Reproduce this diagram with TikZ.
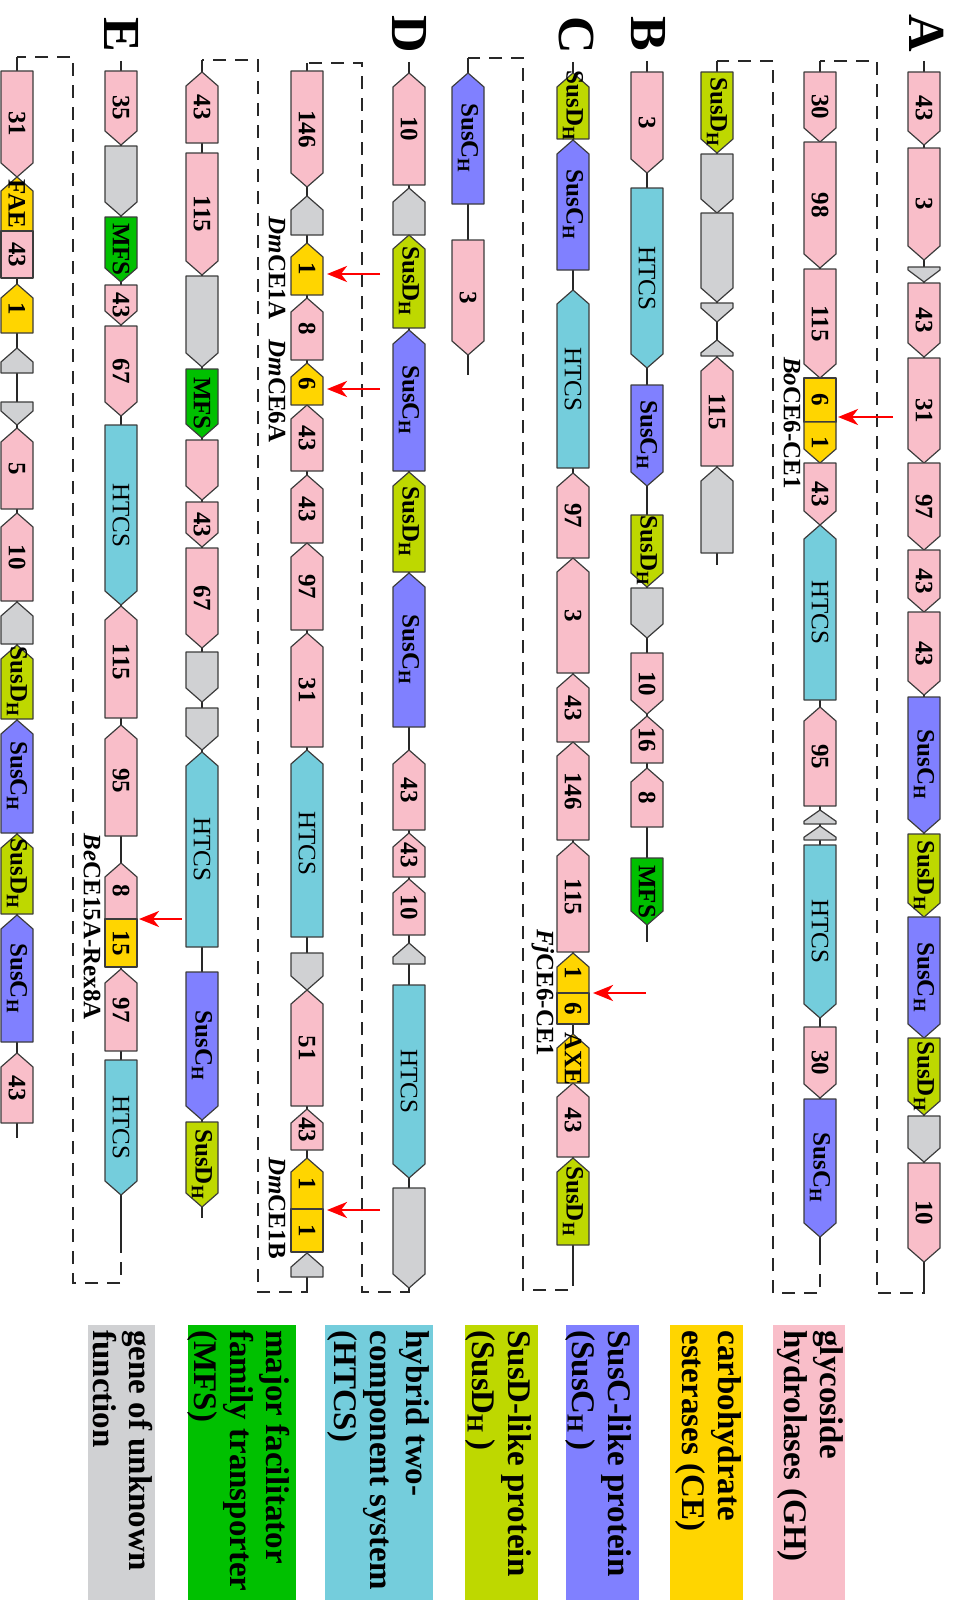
\documentclass[tikz,border=0pt]{standalone}
\usepackage{fontspec}
\setmainfont{Liberation Serif}
\usetikzlibrary{arrows.meta}
\definecolor{gh}{RGB}{249,190,201}
\definecolor{ce}{RGB}{255,213,0}
\definecolor{susc}{RGB}{128,128,255}
\definecolor{susd}{RGB}{190,216,0}
\definecolor{htcs}{RGB}{116,205,220}
\definecolor{mfs}{RGB}{0,192,0}
\definecolor{unk}{RGB}{208,209,211}
\definecolor{edge}{RGB}{60,60,60}
\definecolor{lineclr}{RGB}{40,40,40}
\newcounter{gn}
\newcommand\susC{SusC\textsubscript{H}}
\newcommand\susD{SusD\textsubscript{H}}
\newcommand\gene[6]{%
  \pgfmathsetmacro\gtip{min(14,0.8*(#3-#2))}%
  \if#4d\draw[genebox,fill=#5] (#1-16,#2) -- (#1+16,#2) -- (#1+16,#3-\gtip) -- (#1,#3) -- (#1-16,#3-\gtip) -- cycle;\fi
  \if#4u\draw[genebox,fill=#5] (#1,#2) -- (#1+16,#2+\gtip) -- (#1+16,#3) -- (#1-16,#3) -- (#1-16,#2+\gtip) -- cycle;\fi
  \if#4r\draw[genebox,fill=#5] (#1-16,#2) rectangle (#1+16,#3);\fi
  \stepcounter{gn}%
  \node[genelabel] (g\arabic{gn}) at (#1,{(#2+#3)/2}) {#6};%
}
\newcommand\row[4]{%
  \coordinate (#1s) at (#2,#3); \coordinate (#1e) at (#2,#4);
  \draw[backbone] (#1s) -- (#1e);}
\newcommand\redarrow[4]{%
  \coordinate (#1s) at (#2,#4); \coordinate (#1e) at (#3,#4);
  \draw[redarr] (#1s) -- (#1e);}
\tikzset{
  genebox/.style={draw=edge, line width=0.6pt, line join=round},
  genelabel/.style={rotate=-90, inner sep=0pt, font=\fontsize{12.5}{13}\selectfont\bfseries},
  backbone/.style={draw=lineclr, line width=1.1pt},
  dashbox/.style={draw=lineclr, line width=1.3pt, dash pattern=on 6.5pt off 4.5pt},
  redarr/.style={draw=red, line width=1.4pt, -{Stealth[length=10pt,width=8pt,inset=3pt]}},
  ann/.style={rotate=-90, inner sep=0pt, font=\fontsize{12.5}{13}\selectfont\bfseries},
  rowlab/.style={rotate=-90, inner sep=0pt, font=\fontsize{26}{27}\selectfont\bfseries},
  legtext/.style={rotate=-90, anchor=north west, align=left, inner sep=0pt, font=\fontsize{16.5}{18}\selectfont\bfseries},
}
\begin{document}
\begin{tikzpicture}[x=0.5pt, y=-0.5pt]
\useasboundingbox (0,0) rectangle (956,1600);
% backbones
\row{A}{924}{61}{1282}
\row{Ab}{820}{61}{1252}
\row{Ac}{717}{61}{565}
\row{B}{647}{61}{942}
\row{C}{573}{62}{1273}
\row{Cb}{468}{58}{375}
\row{D}{409}{62}{1288}
\row{Db}{307}{63}{1285}
\row{Dc}{202}{60}{1218}
\row{E}{121}{61}{1240}
\row{Eb}{17}{57}{1138}
% dashed continuation connectors
\draw[dashbox] (Ae) -- (924,1293) -- (877,1293) -- (877,61) -- (Abs);
\draw[dashbox] (Abe) -- (820,1293) -- (773,1293) -- (773,61) -- (Acs);
\draw[dashbox] (Ce) -- (573,1290) -- (523,1290) -- (523,58) -- (Cbs);
\draw[dashbox] (De) -- (409,1292) -- (362,1292) -- (362,63) -- (Dbs);
\draw[dashbox] (Dbe) -- (307,1292) -- (258,1292) -- (258,60) -- (Dcs);
\draw[dashbox] (Ee) -- (121,1283) -- (73,1283) -- (73,57) -- (Ebs);
% Row A
\gene{924}{72}{145}{d}{gh}{43}
\gene{924}{148}{260}{d}{gh}{3}
\gene{924}{267}{282}{d}{unk}{}
\gene{924}{283}{357}{d}{gh}{43}
\gene{924}{358}{463}{d}{gh}{31}
\gene{924}{463}{550}{d}{gh}{97}
\gene{924}{550}{612}{d}{gh}{43}
\gene{924}{612}{695}{d}{gh}{43}
\gene{924}{697}{833}{d}{susc}{\susC}
\gene{924}{834}{917}{d}{susd}{\susD}
\gene{924}{917}{1038}{d}{susc}{\susC}
\gene{924}{1038}{1115}{d}{susd}{\susD}
\gene{924}{1116}{1162}{d}{unk}{}
\gene{924}{1163}{1262}{d}{gh}{10}
% Row A2
\gene{820}{72}{142}{d}{gh}{30}
\gene{820}{142}{268}{d}{gh}{98}
\gene{820}{269}{378}{d}{gh}{115}
\gene{820}{378}{422}{r}{ce}{6}
\gene{820}{422}{463}{d}{ce}{1}
\gene{820}{463}{525}{d}{gh}{43}
\gene{820}{525}{700}{u}{htcs}{\mdseries HTCS}
\gene{820}{707}{806}{u}{gh}{95}
\gene{820}{810}{824}{u}{unk}{}
\gene{820}{826}{840}{u}{unk}{}
\gene{820}{845}{1018}{d}{htcs}{\mdseries HTCS}
\gene{820}{1027}{1098}{d}{gh}{30}
\gene{820}{1099}{1237}{d}{susc}{\susC}
% Row A3
\gene{717}{72}{153}{d}{susd}{\susD}
\gene{717}{154}{213}{d}{unk}{}
\gene{717}{213}{302}{d}{unk}{}
\gene{717}{303}{322}{d}{unk}{}
\gene{717}{340}{356}{u}{unk}{}
\gene{717}{357}{466}{u}{gh}{115}
\gene{717}{467}{553}{u}{unk}{}
% Row B
\gene{647}{72}{173}{d}{gh}{3}
\gene{647}{188}{368}{d}{htcs}{\mdseries HTCS}
\gene{647}{385}{486}{d}{susc}{\susC}
\gene{647}{515}{587}{d}{susd}{\susD}
\gene{647}{588}{638}{d}{unk}{}
\gene{647}{653}{714}{d}{gh}{10}
\gene{647}{716}{763}{u}{gh}{16}
\gene{647}{768}{827}{u}{gh}{8}
\gene{647}{858}{925}{d}{mfs}{MFS}
% Row C
\gene{573}{73}{139}{u}{susd}{\susD}
\gene{573}{140}{270}{u}{susc}{\susC}
\gene{573}{290}{468}{u}{htcs}{\mdseries HTCS}
\gene{573}{473}{558}{u}{gh}{97}
\gene{573}{558}{673}{u}{gh}{3}
\gene{573}{674}{742}{u}{gh}{43}
\gene{573}{742}{840}{u}{gh}{146}
\gene{573}{842}{952}{u}{gh}{115}
\gene{573}{953}{993}{u}{ce}{1}
\gene{573}{993}{1024}{r}{ce}{6}
\gene{573}{1034}{1083}{u}{ce}{AXE}
\gene{573}{1083}{1157}{u}{gh}{43}
\gene{573}{1158}{1245}{u}{susd}{\susD}
% Row C2
\gene{468}{73}{204}{u}{susc}{\susC}
\gene{468}{240}{355}{d}{gh}{3}
% Row D
\gene{409}{73}{185}{u}{gh}{10}
\gene{409}{188}{235}{u}{unk}{}
\gene{409}{235}{328}{u}{susd}{\susD}
\gene{409}{330}{471}{u}{susc}{\susC}
\gene{409}{472}{572}{u}{susd}{\susD}
\gene{409}{573}{727}{u}{susc}{\susC}
\gene{409}{750}{830}{u}{gh}{43}
\gene{409}{833}{877}{u}{gh}{43}
\gene{409}{879}{935}{u}{gh}{10}
\gene{409}{943}{964}{u}{unk}{}
\gene{409}{985}{1178}{d}{htcs}{\mdseries HTCS}
\gene{409}{1188}{1288}{d}{unk}{}
% Row D2
\gene{307}{71}{187}{d}{gh}{146}
\gene{307}{196}{235}{u}{unk}{}
\gene{307}{243}{295}{u}{ce}{1}
\gene{307}{298}{360}{u}{gh}{8}
\gene{307}{363}{405}{u}{ce}{6}
\gene{307}{405}{471}{u}{gh}{43}
\gene{307}{475}{543}{u}{gh}{43}
\gene{307}{543}{630}{u}{gh}{97}
\gene{307}{633}{747}{u}{gh}{31}
\gene{307}{750}{937}{u}{htcs}{\mdseries HTCS}
\gene{307}{953}{990}{d}{unk}{}
\gene{307}{990}{1106}{u}{gh}{51}
\gene{307}{1109}{1150}{u}{gh}{43}
\gene{307}{1158}{1209}{u}{ce}{1}
\gene{307}{1209}{1252}{r}{ce}{1}
\gene{307}{1253}{1277}{u}{unk}{}
% Row D3
\gene{202}{72}{143}{u}{gh}{43}
\gene{202}{153}{275}{d}{gh}{115}
\gene{202}{276}{367}{d}{unk}{}
\gene{202}{369}{438}{d}{mfs}{MFS}
\gene{202}{440}{500}{d}{gh}{}
\gene{202}{502}{547}{d}{gh}{43}
\gene{202}{548}{648}{d}{gh}{67}
\gene{202}{652}{702}{d}{unk}{}
\gene{202}{708}{750}{d}{unk}{}
\gene{202}{752}{947}{u}{htcs}{\mdseries HTCS}
\gene{202}{972}{1120}{d}{susc}{\susC}
\gene{202}{1122}{1207}{d}{susd}{\susD}
% Row E
\gene{121}{71}{145}{d}{gh}{35}
\gene{121}{146}{216}{d}{unk}{}
\gene{121}{217}{282}{d}{mfs}{MFS}
\gene{121}{285}{325}{d}{gh}{43}
\gene{121}{326}{416}{d}{gh}{67}
\gene{121}{425}{605}{d}{htcs}{\mdseries HTCS}
\gene{121}{606}{718}{u}{gh}{115}
\gene{121}{725}{836}{u}{gh}{95}
\gene{121}{863}{919}{u}{gh}{8}
\gene{121}{919}{967}{r}{ce}{15}
\gene{121}{969}{1051}{u}{gh}{97}
\gene{121}{1060}{1195}{d}{htcs}{\mdseries HTCS}
% Row E2
\gene{17}{71}{177}{d}{gh}{31}
\gene{17}{177}{231}{u}{ce}{FAE}
\gene{17}{231}{278}{r}{gh}{43}
\gene{17}{284}{333}{u}{ce}{1}
\gene{17}{348}{373}{u}{unk}{}
\gene{17}{402}{425}{d}{unk}{}
\gene{17}{428}{509}{u}{gh}{5}
\gene{17}{513}{601}{u}{gh}{10}
\gene{17}{602}{644}{u}{unk}{}
\gene{17}{645}{719}{u}{susd}{\susD}
\gene{17}{720}{833}{u}{susc}{\susC}
\gene{17}{834}{914}{u}{susd}{\susD}
\gene{17}{915}{1042}{u}{susc}{\susC}
\gene{17}{1053}{1123}{u}{gh}{43}
% red arrows
\redarrow{ra}{893}{838}{417}
\redarrow{rb}{646}{593}{993}
\redarrow{rc}{380}{327}{274}
\redarrow{rd}{380}{327}{389}
\redarrow{re}{380}{327}{1210}
\redarrow{rf}{182}{139}{919}
% annotations
\node[ann] (bo) at (792,423) {\textit{Bo}CE6-CE1};
\node[ann] (fj) at (543,993) {\textit{Fj}CE6-CE1};
\node[ann] (dm1a) at (277,268) {\textit{Dm}CE1A};
\node[ann] (dm6a) at (277,391) {\textit{Dm}CE6A};
\node[ann] (dm1b) at (277,1208) {\textit{Dm}CE1B};
\node[ann] (be) at (92,927) {\textit{Be}CE15A-Rex8A};
% row letters
\node[rowlab] (LA) at (927,33) {A};
\node[rowlab] (LB) at (648,34) {B};
\node[rowlab] (LC) at (576,35) {C};
\node[rowlab] (LD) at (409,34) {D};
\node[rowlab] (LE) at (122,35) {E};
% legend
\fill[gh] (773,1325) rectangle (845,1600);
\fill[ce] (670,1325) rectangle (743,1600);
\fill[susc] (566,1325) rectangle (639,1600);
\fill[susd] (465,1325) rectangle (538,1600);
\fill[htcs] (325,1325) rectangle (433,1600);
\fill[mfs] (188,1325) rectangle (296,1600);
\fill[unk] (88,1325) rectangle (155,1600);
\node[legtext] (lgh) at (844,1330) {glycoside\\hydrolases (GH)};
\node[legtext] (lce) at (742,1330) {carbohydrate\\esterases (CE)};
\node[legtext] (lsc) at (632,1330) {SusC-like protein\\(SusC\textsubscript{H}\,)};
\node[legtext] (lsd) at (532,1330) {SusD-like protein\\(SusD\textsubscript{H}\,)};
\node[legtext] (lht) at (430,1330) {hybrid two-\\component system\\(HTCS)};
\node[legtext] (lmf) at (290,1330) {major facilitator\\family transporter\\(MFS)};
\node[legtext] (lun) at (153,1330) {gene of unknown\\function};
\end{tikzpicture}
\end{document}
